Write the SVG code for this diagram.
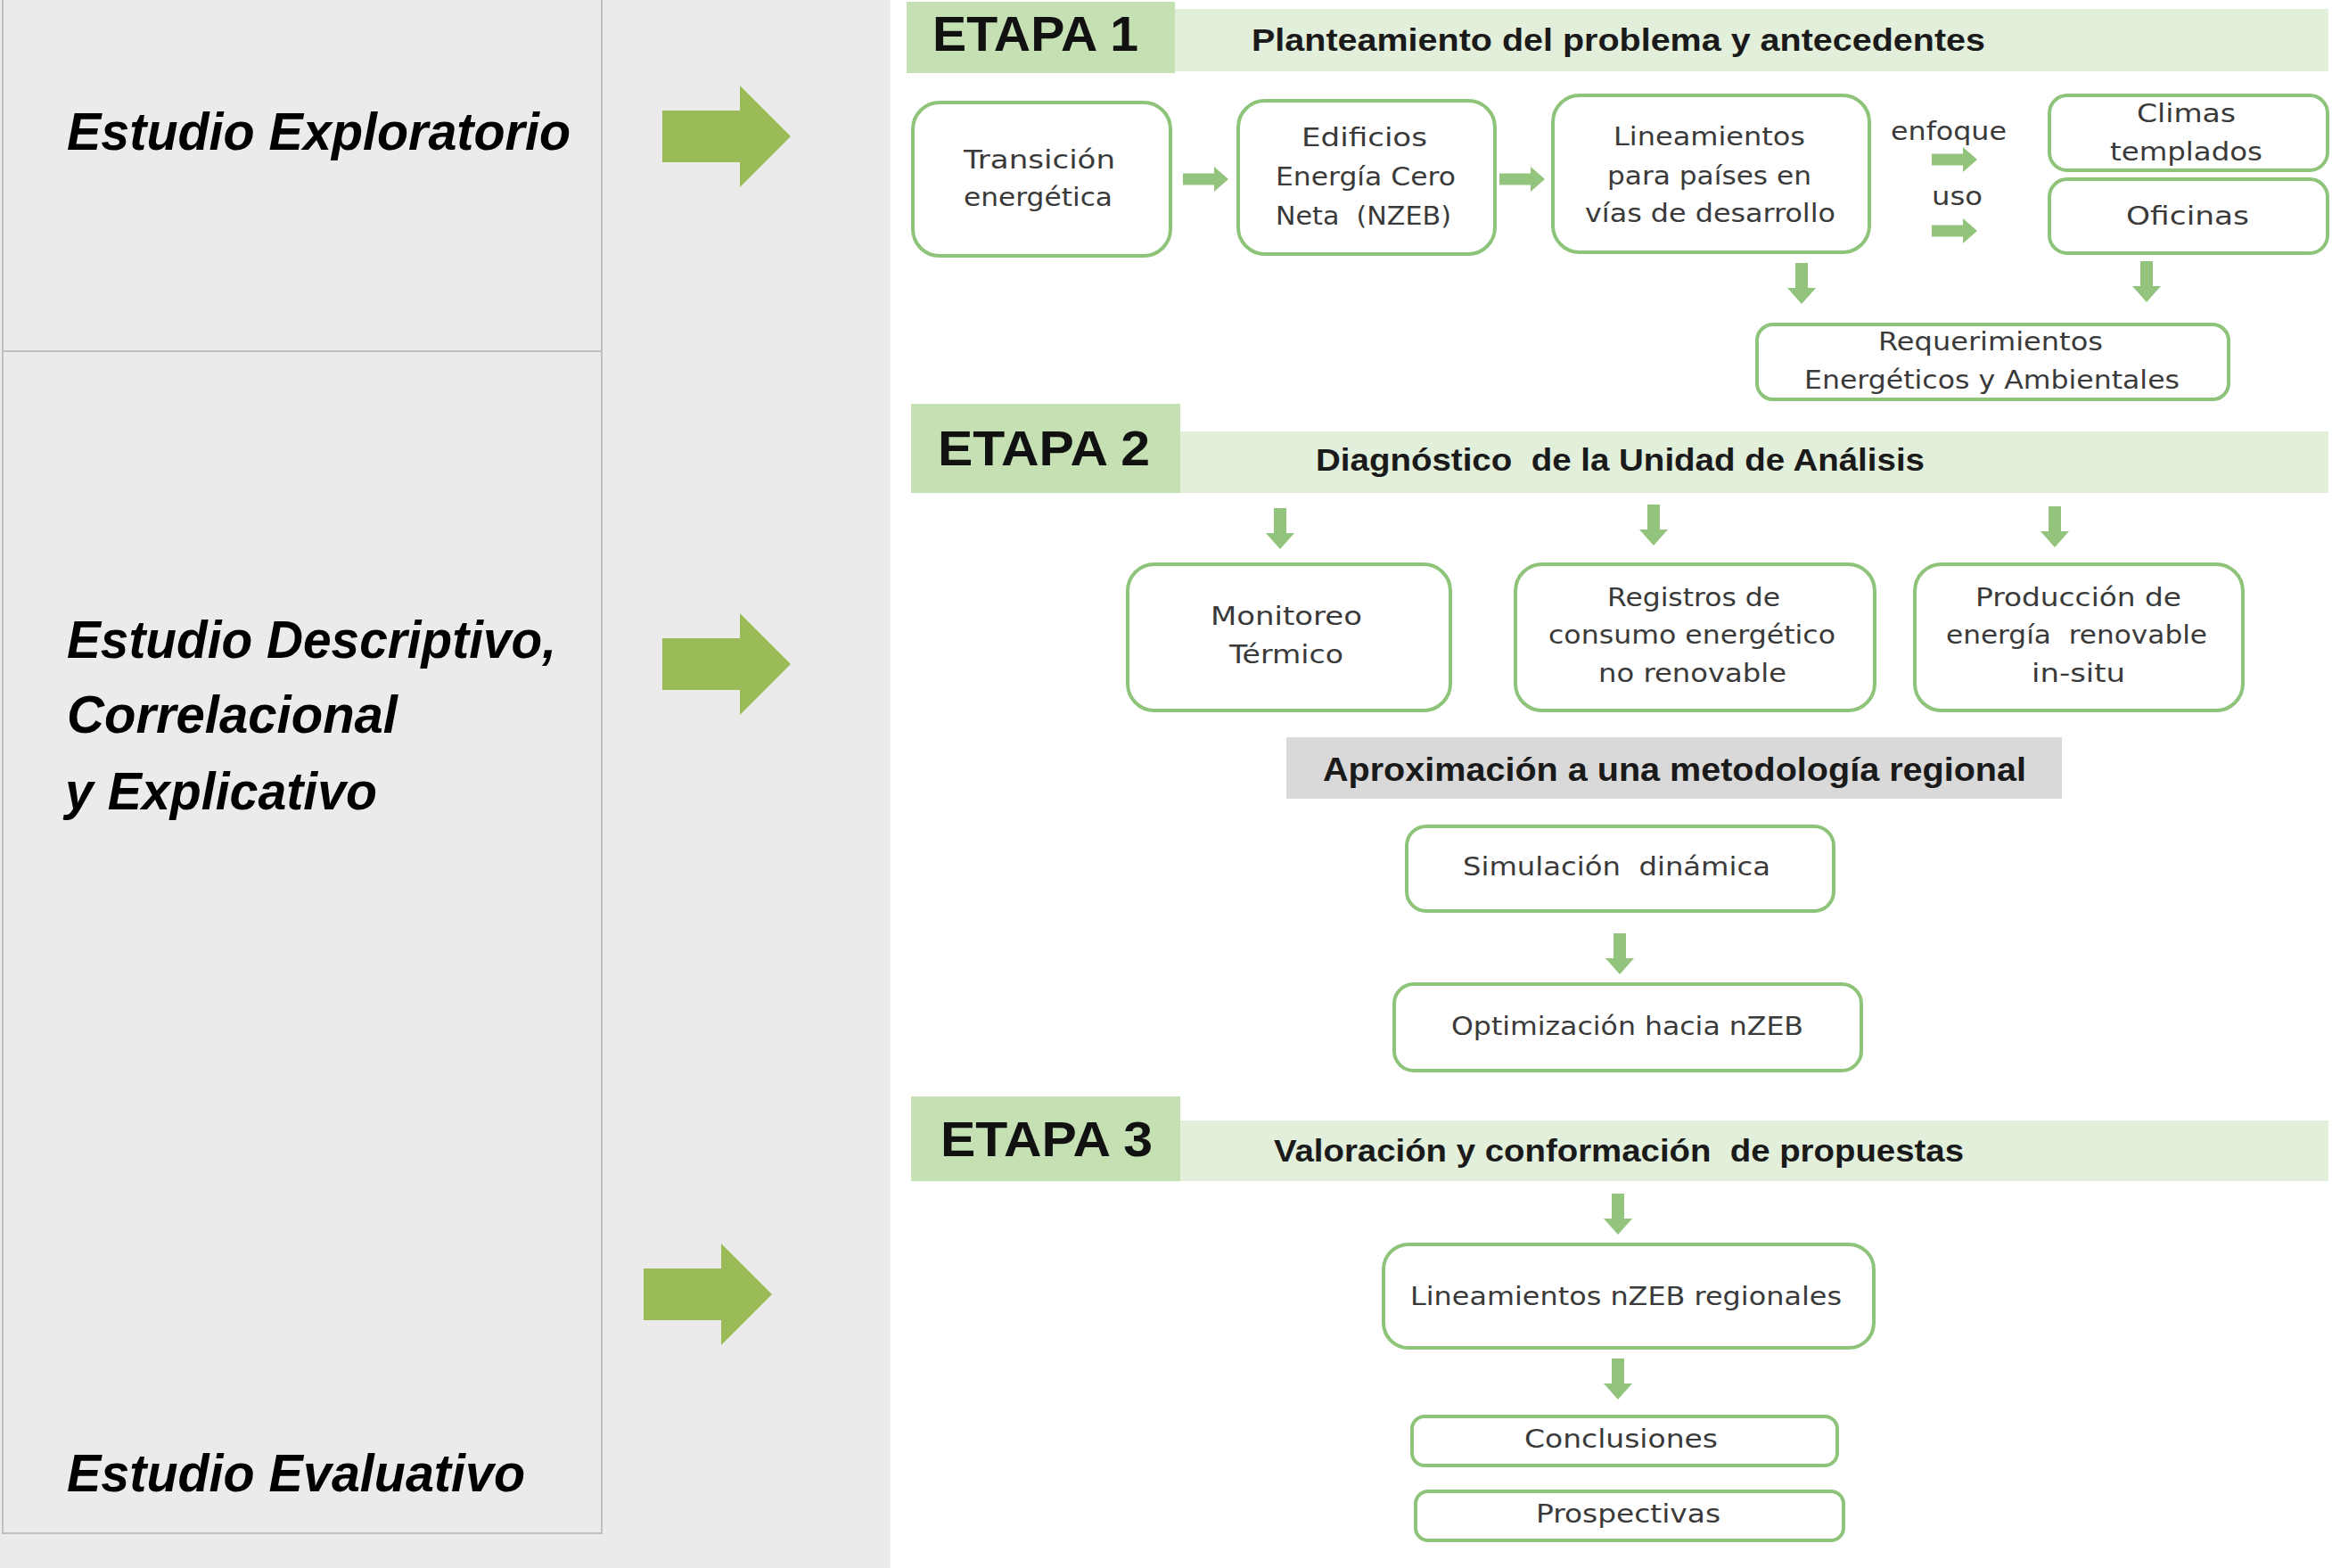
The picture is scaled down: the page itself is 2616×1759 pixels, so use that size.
<svg xmlns="http://www.w3.org/2000/svg" width="2616" height="1759" viewBox="0 0 2616 1759">
<style>
.bg{fill:#ebebeb}
.lbox{fill:none;stroke:#bfbfbf;stroke-width:2}
.big{fill:#9bbb59}
.arr{fill:#93c47d}
.etd{fill:#c5e0b3}
.etl{fill:#e2efda}
.gbar{fill:#d9d9d9}
.node{fill:#ffffff;stroke:#8dc47a;stroke-width:4}
.lt{font-family:"Liberation Sans",Arial,sans-serif;font-weight:bold;font-style:italic;font-size:60px;fill:#000000}
.et{font-family:"Liberation Sans",Arial,sans-serif;font-weight:bold;font-size:56px;fill:#111111}
.ht{font-family:"Liberation Sans",Arial,sans-serif;font-weight:bold;font-size:35px;fill:#1a1a1a}
.nt{font-family:"DejaVu Sans","Liberation Sans",sans-serif;font-size:29px;fill:#3a3a3a}
</style>
<defs>
<path id="bigArrow" d="M0,-29 H87 V-57 L144,0 L87,57 V29 H0 Z"/>
<path id="arrowR" d="M0,-6.5 H35 V-14 L51,0 L35,14 V6.5 H0 Z"/>
<path id="arrowD" d="M-7,0 H7 V28 H16 L0,46 L-16,28 H-7 Z"/>
</defs>

<g id="left-panel">
<rect class="bg" x="0" y="0" width="999" height="1759"/>
<rect class="lbox" x="3" y="-2" width="672" height="1722"/>
<line class="lbox" x1="3" y1="394" x2="675" y2="394"/>
</g>

<g id="study-exploratorio">
<text class="lt" x="75" y="168" textLength="565" lengthAdjust="spacingAndGlyphs">Estudio Exploratorio</text>
</g>
<g id="study-descriptivo">
<text class="lt" x="75" y="738" textLength="549" lengthAdjust="spacingAndGlyphs">Estudio Descriptivo,</text>
<text class="lt" x="75" y="822" textLength="371" lengthAdjust="spacingAndGlyphs">Correlacional</text>
<text class="lt" x="73" y="908" textLength="350" lengthAdjust="spacingAndGlyphs">y Explicativo</text>
</g>
<g id="study-evaluativo">
<text class="lt" x="75" y="1673" textLength="514" lengthAdjust="spacingAndGlyphs">Estudio Evaluativo</text>
</g>

<g id="big-arrows">
<use href="#bigArrow" class="big" x="743" y="153"/>
<use href="#bigArrow" class="big" x="743" y="745"/>
<use href="#bigArrow" class="big" x="722" y="1452"/>
</g>

<g id="etapa1">
<rect class="etl" x="1318" y="10" width="1294" height="70"/>
<rect class="etd" x="1017" y="2" width="301" height="80"/>
<text class="et" x="1046" y="57" textLength="231" lengthAdjust="spacingAndGlyphs">ETAPA 1</text>
<text class="ht" x="1404" y="57" textLength="823" lengthAdjust="spacingAndGlyphs">Planteamiento del problema y antecedentes</text>
</g>

<g id="etapa2">
<rect class="etl" x="1324" y="484" width="1288" height="69"/>
<rect class="etd" x="1022" y="453" width="302" height="100"/>
<text class="et" x="1052" y="522" textLength="238" lengthAdjust="spacingAndGlyphs">ETAPA 2</text>
<text class="ht" x="1476" y="528" textLength="683" lengthAdjust="spacingAndGlyphs" xml:space="preserve">Diagnóstico  de la Unidad de Análisis</text>
</g>

<g id="etapa3">
<rect class="etl" x="1324" y="1257" width="1288" height="68"/>
<rect class="etd" x="1022" y="1230" width="302" height="95"/>
<text class="et" x="1055" y="1297" textLength="238" lengthAdjust="spacingAndGlyphs">ETAPA 3</text>
<text class="ht" x="1429" y="1303" textLength="774" lengthAdjust="spacingAndGlyphs" xml:space="preserve">Valoración y conformación  de propuestas</text>
</g>

<g id="node-transicion">
<rect class="node" x="1024" y="115" width="289" height="172" rx="30"/>
<text class="nt" x="1081" y="189" textLength="170" lengthAdjust="spacingAndGlyphs">Transición</text>
<text class="nt" x="1081" y="231" textLength="167" lengthAdjust="spacingAndGlyphs">energética</text>
</g>
<g id="node-edificios">
<rect class="node" x="1389" y="113" width="288" height="172" rx="30"/>
<text class="nt" x="1460" y="164" textLength="141" lengthAdjust="spacingAndGlyphs">Edificios</text>
<text class="nt" x="1431" y="208" textLength="202" lengthAdjust="spacingAndGlyphs">Energía Cero</text>
<text class="nt" x="1431" y="252" textLength="197" lengthAdjust="spacingAndGlyphs" xml:space="preserve">Neta  (NZEB)</text>
</g>
<g id="node-lineamientos">
<rect class="node" x="1742" y="107" width="355" height="176" rx="30"/>
<text class="nt" x="1810" y="163" textLength="215" lengthAdjust="spacingAndGlyphs">Lineamientos</text>
<text class="nt" x="1803" y="207" textLength="229" lengthAdjust="spacingAndGlyphs">para países en</text>
<text class="nt" x="1778" y="249" textLength="281" lengthAdjust="spacingAndGlyphs">vías de desarrollo</text>
</g>
<g id="label-enfoque">
<text class="nt" x="2121" y="157" textLength="130" lengthAdjust="spacingAndGlyphs">enfoque</text>
</g>
<g id="label-uso">
<text class="nt" x="2167" y="230" textLength="57" lengthAdjust="spacingAndGlyphs">uso</text>
</g>
<g id="node-climas">
<rect class="node" x="2299" y="107" width="312" height="84" rx="20"/>
<text class="nt" x="2397" y="137" textLength="111" lengthAdjust="spacingAndGlyphs">Climas</text>
<text class="nt" x="2367" y="180" textLength="171" lengthAdjust="spacingAndGlyphs">templados</text>
</g>
<g id="node-oficinas">
<rect class="node" x="2299" y="201" width="312" height="83" rx="20"/>
<text class="nt" x="2385" y="252" textLength="138" lengthAdjust="spacingAndGlyphs">Oficinas</text>
</g>
<g id="node-requerimientos">
<rect class="node" x="1971" y="364" width="529" height="84" rx="18"/>
<text class="nt" x="2107" y="393" textLength="252" lengthAdjust="spacingAndGlyphs">Requerimientos</text>
<text class="nt" x="2024" y="436" textLength="421" lengthAdjust="spacingAndGlyphs">Energéticos y Ambientales</text>
</g>

<g id="node-monitoreo">
<rect class="node" x="1265" y="633" width="362" height="164" rx="30"/>
<text class="nt" x="1358" y="701" textLength="170" lengthAdjust="spacingAndGlyphs">Monitoreo</text>
<text class="nt" x="1379" y="744" textLength="128" lengthAdjust="spacingAndGlyphs">Térmico</text>
</g>
<g id="node-registros">
<rect class="node" x="1700" y="633" width="403" height="164" rx="30"/>
<text class="nt" x="1803" y="680" textLength="194" lengthAdjust="spacingAndGlyphs">Registros de</text>
<text class="nt" x="1737" y="722" textLength="322" lengthAdjust="spacingAndGlyphs">consumo energético</text>
<text class="nt" x="1793" y="765" textLength="211" lengthAdjust="spacingAndGlyphs">no renovable</text>
</g>
<g id="node-produccion">
<rect class="node" x="2148" y="633" width="368" height="164" rx="30"/>
<text class="nt" x="2216" y="680" textLength="231" lengthAdjust="spacingAndGlyphs">Producción de</text>
<text class="nt" x="2183" y="722" textLength="293" lengthAdjust="spacingAndGlyphs" xml:space="preserve">energía  renovable</text>
<text class="nt" x="2279" y="765" textLength="105" lengthAdjust="spacingAndGlyphs">in-situ</text>
</g>
<g id="bar-aproximacion">
<rect class="gbar" x="1443" y="827" width="870" height="69"/>
<text class="ht" x="1484" y="876" style="font-size:37px" textLength="789" lengthAdjust="spacingAndGlyphs">Aproximación a una metodología regional</text>
</g>
<g id="node-simulacion">
<rect class="node" x="1578" y="927" width="479" height="95" rx="22"/>
<text class="nt" x="1641" y="982" textLength="345" lengthAdjust="spacingAndGlyphs" xml:space="preserve">Simulación  dinámica</text>
</g>
<g id="node-optimizacion">
<rect class="node" x="1564" y="1104" width="524" height="97" rx="22"/>
<text class="nt" x="1628" y="1161" textLength="395" lengthAdjust="spacingAndGlyphs">Optimización hacia nZEB</text>
</g>

<g id="node-lineamientos-nzeb">
<rect class="node" x="1552" y="1396" width="550" height="116" rx="28"/>
<text class="nt" x="1582" y="1464" textLength="484" lengthAdjust="spacingAndGlyphs">Lineamientos nZEB regionales</text>
</g>
<g id="node-conclusiones">
<rect class="node" x="1584" y="1589" width="477" height="55" rx="14"/>
<text class="nt" x="1710" y="1624" textLength="217" lengthAdjust="spacingAndGlyphs">Conclusiones</text>
</g>
<g id="node-prospectivas">
<rect class="node" x="1588" y="1673" width="480" height="55" rx="14"/>
<text class="nt" x="1723" y="1708" textLength="207" lengthAdjust="spacingAndGlyphs">Prospectivas</text>
</g>

<g id="connectors">
<use href="#arrowR" class="arr" x="1327" y="201"/>
<use href="#arrowR" class="arr" x="1682" y="201"/>
<use href="#arrowR" class="arr" x="2167" y="179"/>
<use href="#arrowR" class="arr" x="2167" y="259"/>
<use href="#arrowD" class="arr" x="2021" y="295"/>
<use href="#arrowD" class="arr" x="2408" y="293"/>
<use href="#arrowD" class="arr" x="1436" y="570"/>
<use href="#arrowD" class="arr" x="1855" y="566"/>
<use href="#arrowD" class="arr" x="2305" y="568"/>
<use href="#arrowD" class="arr" x="1817" y="1047"/>
<use href="#arrowD" class="arr" x="1815" y="1339"/>
<use href="#arrowD" class="arr" x="1815" y="1524"/>
</g>
</svg>
